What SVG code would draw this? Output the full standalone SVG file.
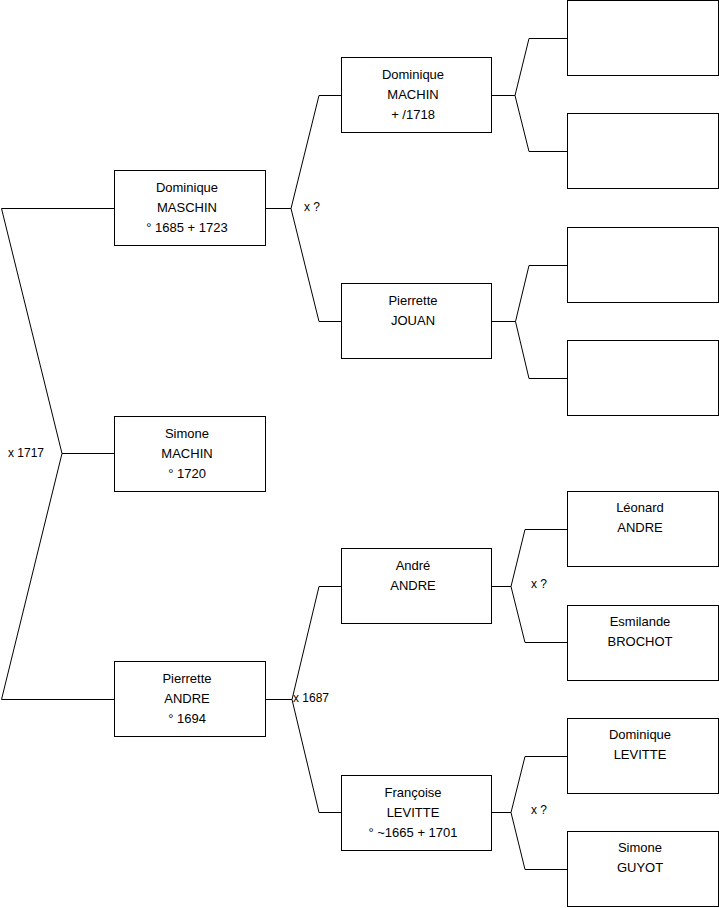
<svg xmlns="http://www.w3.org/2000/svg" width="719" height="908" viewBox="0 0 719 908">
<style>
.box{fill:#fff;stroke:#000;stroke-width:1}
.conn{fill:none;stroke:#000;stroke-width:1}
.t{font-family:"Liberation Sans",Arial,sans-serif;font-size:13px;fill:#000;text-anchor:middle}
.lbl{font-family:"Liberation Sans",Arial,sans-serif;font-size:12px;fill:#000}
</style>
<rect width="719" height="908" fill="#fff"/>
<g id="connectors">
<polyline class="conn" points="114.5,208.5 1.5,208.5 62,453.5 1.5,699.5 114.5,699.5"/>
<line class="conn" x1="62" y1="453.5" x2="114.5" y2="453.5"/>
<polyline class="conn" points="265.5,208.5 291,208.5 319,95.5 341.5,95.5"/>
<polyline class="conn" points="291,208.5 319,321.5 341.5,321.5"/>
<polyline class="conn" points="265.5,699.5 292,699.5 319,586.5 341.5,586.5"/>
<polyline class="conn" points="292,699.5 319,812.5 341.5,812.5"/>
<polyline class="conn" points="491.5,95.5 515,95.5 529,38.5 567.5,38.5"/>
<polyline class="conn" points="515,95.5 529,151.5 567.5,151.5"/>
<polyline class="conn" points="491.5,321.5 515.5,321.5 529,265.5 567.5,265.5"/>
<polyline class="conn" points="515.5,321.5 529,378.5 567.5,378.5"/>
<polyline class="conn" points="491.5,586.5 511,586.5 525,529.5 567.5,529.5"/>
<polyline class="conn" points="511,586.5 525,642.5 567.5,642.5"/>
<polyline class="conn" points="491.5,812.5 511,812.5 525,756.5 567.5,756.5"/>
<polyline class="conn" points="511,812.5 525,869.5 567.5,869.5"/>
<text class="lbl" x="304" y="211">x ?</text>
<text class="lbl" x="8" y="456.5">x 1717</text>
<text class="lbl" x="293" y="701.5">x 1687</text>
<text class="lbl" x="531" y="587.5">x ?</text>
<text class="lbl" x="531" y="814">x ?</text>
</g>
<g id="n-dominique-maschin">
<rect class="box" x="114.5" y="170.5" width="151" height="75"/>
<text class="t" x="187" y="191.5">Dominique</text>
<text class="t" x="187" y="211.5">MASCHIN</text>
<text class="t" x="187" y="231.5">° 1685 + 1723</text>
</g>
<g id="n-simone-machin">
<rect class="box" x="114.5" y="416.5" width="151" height="75"/>
<text class="t" x="187" y="437.5">Simone</text>
<text class="t" x="187" y="457.5">MACHIN</text>
<text class="t" x="187" y="477.5">° 1720</text>
</g>
<g id="n-pierrette-andre">
<rect class="box" x="114.5" y="661.5" width="151" height="75"/>
<text class="t" x="187" y="682.5">Pierrette</text>
<text class="t" x="187" y="702.5">ANDRE</text>
<text class="t" x="187" y="722.5">° 1694</text>
</g>
<g id="n-dominique-machin">
<rect class="box" x="341.5" y="57.5" width="150" height="75"/>
<text class="t" x="413" y="78.5">Dominique</text>
<text class="t" x="413" y="98.5">MACHIN</text>
<text class="t" x="413" y="118.5">+ /1718</text>
</g>
<g id="n-pierrette-jouan">
<rect class="box" x="341.5" y="283.5" width="150" height="75"/>
<text class="t" x="413" y="304.5">Pierrette</text>
<text class="t" x="413" y="324.5">JOUAN</text>
</g>
<g id="n-andre-andre">
<rect class="box" x="341.5" y="548.5" width="150" height="75"/>
<text class="t" x="413" y="569.5">André</text>
<text class="t" x="413" y="589.5">ANDRE</text>
</g>
<g id="n-francoise-levitte">
<rect class="box" x="341.5" y="775.5" width="150" height="75"/>
<text class="t" x="413" y="796.5">Françoise</text>
<text class="t" x="413" y="816.5">LEVITTE</text>
<text class="t" x="413" y="836.5">° ~1665 + 1701</text>
</g>
<g id="n-empty-1"><rect class="box" x="567.5" y="0.5" width="151" height="75"/></g>
<g id="n-empty-2"><rect class="box" x="567.5" y="113.5" width="151" height="75"/></g>
<g id="n-empty-3"><rect class="box" x="567.5" y="227.5" width="151" height="75"/></g>
<g id="n-empty-4"><rect class="box" x="567.5" y="340.5" width="151" height="75"/></g>
<g id="n-leonard-andre">
<rect class="box" x="567.5" y="491.5" width="151" height="75"/>
<text class="t" x="640" y="512">Léonard</text>
<text class="t" x="640" y="532">ANDRE</text>
</g>
<g id="n-esmilande-brochot">
<rect class="box" x="567.5" y="605.5" width="151" height="75"/>
<text class="t" x="640" y="626">Esmilande</text>
<text class="t" x="640" y="646">BROCHOT</text>
</g>
<g id="n-dominique-levitte">
<rect class="box" x="567.5" y="718.5" width="151" height="75"/>
<text class="t" x="640" y="739">Dominique</text>
<text class="t" x="640" y="759">LEVITTE</text>
</g>
<g id="n-simone-guyot">
<rect class="box" x="567.5" y="831.5" width="151" height="75"/>
<text class="t" x="640" y="852">Simone</text>
<text class="t" x="640" y="872">GUYOT</text>
</g>
</svg>
